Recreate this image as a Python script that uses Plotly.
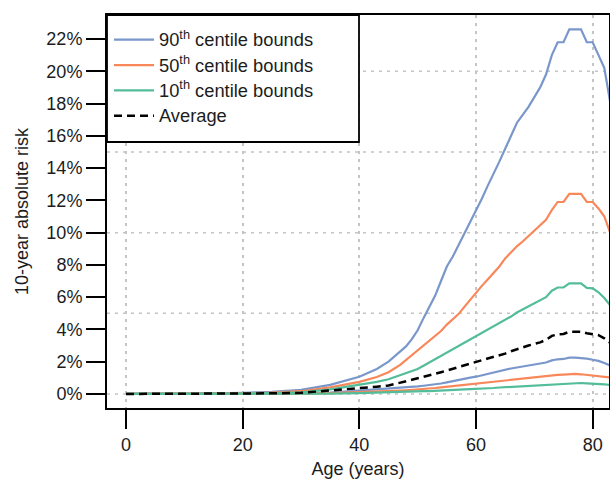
import plotly.graph_objects as go

# ---- data ----
ages = [0, 10, 20, 25, 30, 35, 40, 43, 45, 47, 48, 49, 50, 51, 52, 53, 54, 55, 56, 57, 58, 59, 60,
        61, 62, 63, 64, 65, 66, 67, 68, 69, 70, 71, 72, 73, 74, 75, 76, 77, 78, 79, 80, 81, 82, 83, 84]

p90_upper = [0.0, 0.01, 0.07, 0.13, 0.25, 0.56, 1.07, 1.55, 2.0, 2.6, 2.95, 3.4, 3.95, 4.7, 5.4, 6.1, 7.0, 7.9, 8.5, 9.2, 10.0, 10.7, 11.4,
             12.1, 12.9, 13.6, 14.4, 15.2, 16.0, 16.8, 17.3, 17.8, 18.4, 19.0, 19.8, 21.0, 21.8, 21.8, 22.6, 22.6, 22.6, 21.8, 21.8, 21.0, 20.2, 18.1, 16.0]
p90_lower = [0.0, 0.0, 0.01, 0.02, 0.03, 0.08, 0.2, 0.27, 0.33, 0.38, 0.41, 0.44, 0.47, 0.51, 0.55, 0.6, 0.65, 0.72, 0.8, 0.87, 0.95, 1.01, 1.07,
             1.16, 1.25, 1.33, 1.42, 1.5, 1.58, 1.64, 1.7, 1.76, 1.82, 1.9, 1.95, 2.08, 2.15, 2.17, 2.25, 2.25, 2.24, 2.19, 2.12, 2.05, 1.92, 1.78, 1.6]

p50_upper = [0.0, 0.01, 0.04, 0.08, 0.17, 0.41, 0.75, 1.05, 1.35, 1.8, 2.1, 2.4, 2.75, 3.05, 3.3, 3.6, 3.9, 4.3, 4.6, 4.95, 5.4, 5.85, 6.3,
             6.7, 7.1, 7.5, 7.9, 8.4, 8.8, 9.15, 9.45, 9.8, 10.15, 10.45, 10.8, 11.4, 11.9, 11.9, 12.4, 12.4, 12.4, 11.9, 11.9, 11.5, 11.0, 10.0, 9.0]
p50_lower = [0.0, 0.0, 0.0, 0.01, 0.02, 0.05, 0.1, 0.13, 0.17, 0.21, 0.23, 0.25, 0.28, 0.31, 0.34, 0.37, 0.41, 0.45, 0.48, 0.52, 0.56, 0.6, 0.63,
             0.67, 0.71, 0.75, 0.79, 0.82, 0.86, 0.9, 0.94, 0.98, 1.02, 1.06, 1.1, 1.15, 1.18, 1.2, 1.24, 1.24, 1.22, 1.18, 1.16, 1.13, 1.07, 1.02, 0.95]

p10_upper = [0.0, 0.0, 0.03, 0.05, 0.1, 0.29, 0.56, 0.75, 0.91, 1.15, 1.28, 1.4, 1.55, 1.75, 1.95, 2.15, 2.35, 2.55, 2.8, 3.0, 3.2, 3.4, 3.6,
             3.75, 3.95, 4.15, 4.35, 4.55, 4.8, 5.05, 5.25, 5.45, 5.6, 5.8, 6.0, 6.4, 6.6, 6.6, 6.86, 6.86, 6.86, 6.58, 6.55, 6.3, 5.95, 5.5, 5.0]
p10_lower = [0.0, 0.0, 0.0, 0.0, 0.01, 0.02, 0.05, 0.07, 0.09, 0.11, 0.12, 0.14, 0.15, 0.17, 0.18, 0.19, 0.21, 0.22, 0.24, 0.26, 0.28, 0.3, 0.31,
             0.33, 0.35, 0.37, 0.4, 0.42, 0.44, 0.46, 0.48, 0.5, 0.52, 0.55, 0.57, 0.61, 0.64, 0.66, 0.68, 0.68, 0.68, 0.66, 0.65, 0.63, 0.6, 0.56, 0.52]

average = [0.0, 0.0, 0.02, 0.04, 0.07, 0.2, 0.35, 0.45, 0.52, 0.68, 0.78, 0.88, 0.97, 1.05, 1.15, 1.25, 1.35, 1.45, 1.55, 1.65, 1.76, 1.87, 1.98,
           2.09, 2.2, 2.3, 2.4, 2.5, 2.65, 2.78, 2.9, 3.0, 3.1, 3.2, 3.35, 3.6, 3.7, 3.72, 3.86, 3.86, 3.86, 3.76, 3.72, 3.65, 3.45, 3.2, 2.9]

series_names = ["90<sup>th</sup> centile bounds", "50<sup>th</sup> centile bounds", "10<sup>th</sup> centile bounds"]
average_name = "Average"
y_tick_values = list(range(0, 23, 2))
y_tick_labels = [f"{v}%" for v in y_tick_values]
x_tick_values = [0, 20, 40, 60, 80]
grid_y_values = [0, 5, 10, 15, 20]

# ---- styling ----
colors = ["#7A97CC", "#F8875A", "#52BD98"]
FONT = "Liberation Sans, Arial, Helvetica, sans-serif"
TXT = "#1c1c1c"


def legend_label(text):
    return f'<span style="font-size:18.3px">{text}</span>'


W, H = 610, 479
ML, MR, MT, MB = 107, 1, 15, 71
plot_w = W - ML - MR
plot_h = H - MT - MB

fig = go.Figure()

pairs = [(p90_upper, p90_lower), (p50_upper, p50_lower), (p10_upper, p10_lower)]
for name, col, (up, lo) in zip(series_names, colors, pairs):
    fig.add_trace(go.Scatter(x=ages, y=up, mode="lines", name=legend_label(name), legendgroup=name,
                             line=dict(color=col, width=2.2)))
    fig.add_trace(go.Scatter(x=ages, y=lo, mode="lines", name=legend_label(name), legendgroup=name,
                             showlegend=False, line=dict(color=col, width=2.2)))
fig.add_trace(go.Scatter(x=ages, y=average, mode="lines", name=legend_label(average_name),
                         line=dict(color="black", width=2.5, dash="8px,5px")))

# horizontal dotted gridlines at 5% steps
for gv in grid_y_values:
    fig.add_shape(type="line", xref="paper", x0=0, x1=1, yref="y", y0=gv, y1=gv,
                  line=dict(color="#c4c4c4", width=1.5, dash="3px,5px"), layer="below")

# legend box (white, bordered) in the top-left corner
box_w = 252 / plot_w
box_h = 127 / plot_h
fig.add_shape(type="rect", xref="paper", yref="paper", x0=0, x1=box_w, y0=1 - box_h, y1=1,
              fillcolor="white", line=dict(color="black", width=1.8), layer="above")

fig.update_layout(
    width=W, height=H,
    margin=dict(l=ML, r=MR, t=MT, b=MB, autoexpand=False),
    paper_bgcolor="white", plot_bgcolor="white",
    font=dict(family=FONT, size=18, color=TXT),
    showlegend=True,
    legend=dict(x=0.004, y=1 - 7 / plot_h, xanchor="left", yanchor="top",
                bgcolor="rgba(0,0,0,0)", borderwidth=0, itemwidth=40,
                tracegroupgap=0, font=dict(family=FONT, size=17.2, color=TXT)),
    xaxis=dict(range=[-3.26, 82.8], tickvals=x_tick_values, showgrid=True,
               gridcolor="#c4c4c4", gridwidth=1.5, griddash="3px,5px",
               ticks="outside", ticklen=19, tickwidth=2, tickcolor="black",
               showline=True, linecolor="black", linewidth=2, mirror=True,
               zeroline=False, tickfont=dict(size=18, color=TXT),
               title=dict(text="Age (years)", font=dict(size=18, color=TXT), standoff=15)),
    yaxis=dict(range=[-0.87, 23.49], tickvals=y_tick_values, ticktext=y_tick_labels, showgrid=False,
               ticks="outside", ticklen=19, tickwidth=2, tickcolor="black",
               showline=True, linecolor="black", linewidth=2, mirror=True,
               zeroline=False, tickfont=dict(size=18, color=TXT),
               title=dict(text="10-year absolute risk", font=dict(size=18, color=TXT), standoff=13)),
)

fig.write_html("out.html", config={"displayModeBar": False},
               post_script="document.body.style.margin='0px';")
